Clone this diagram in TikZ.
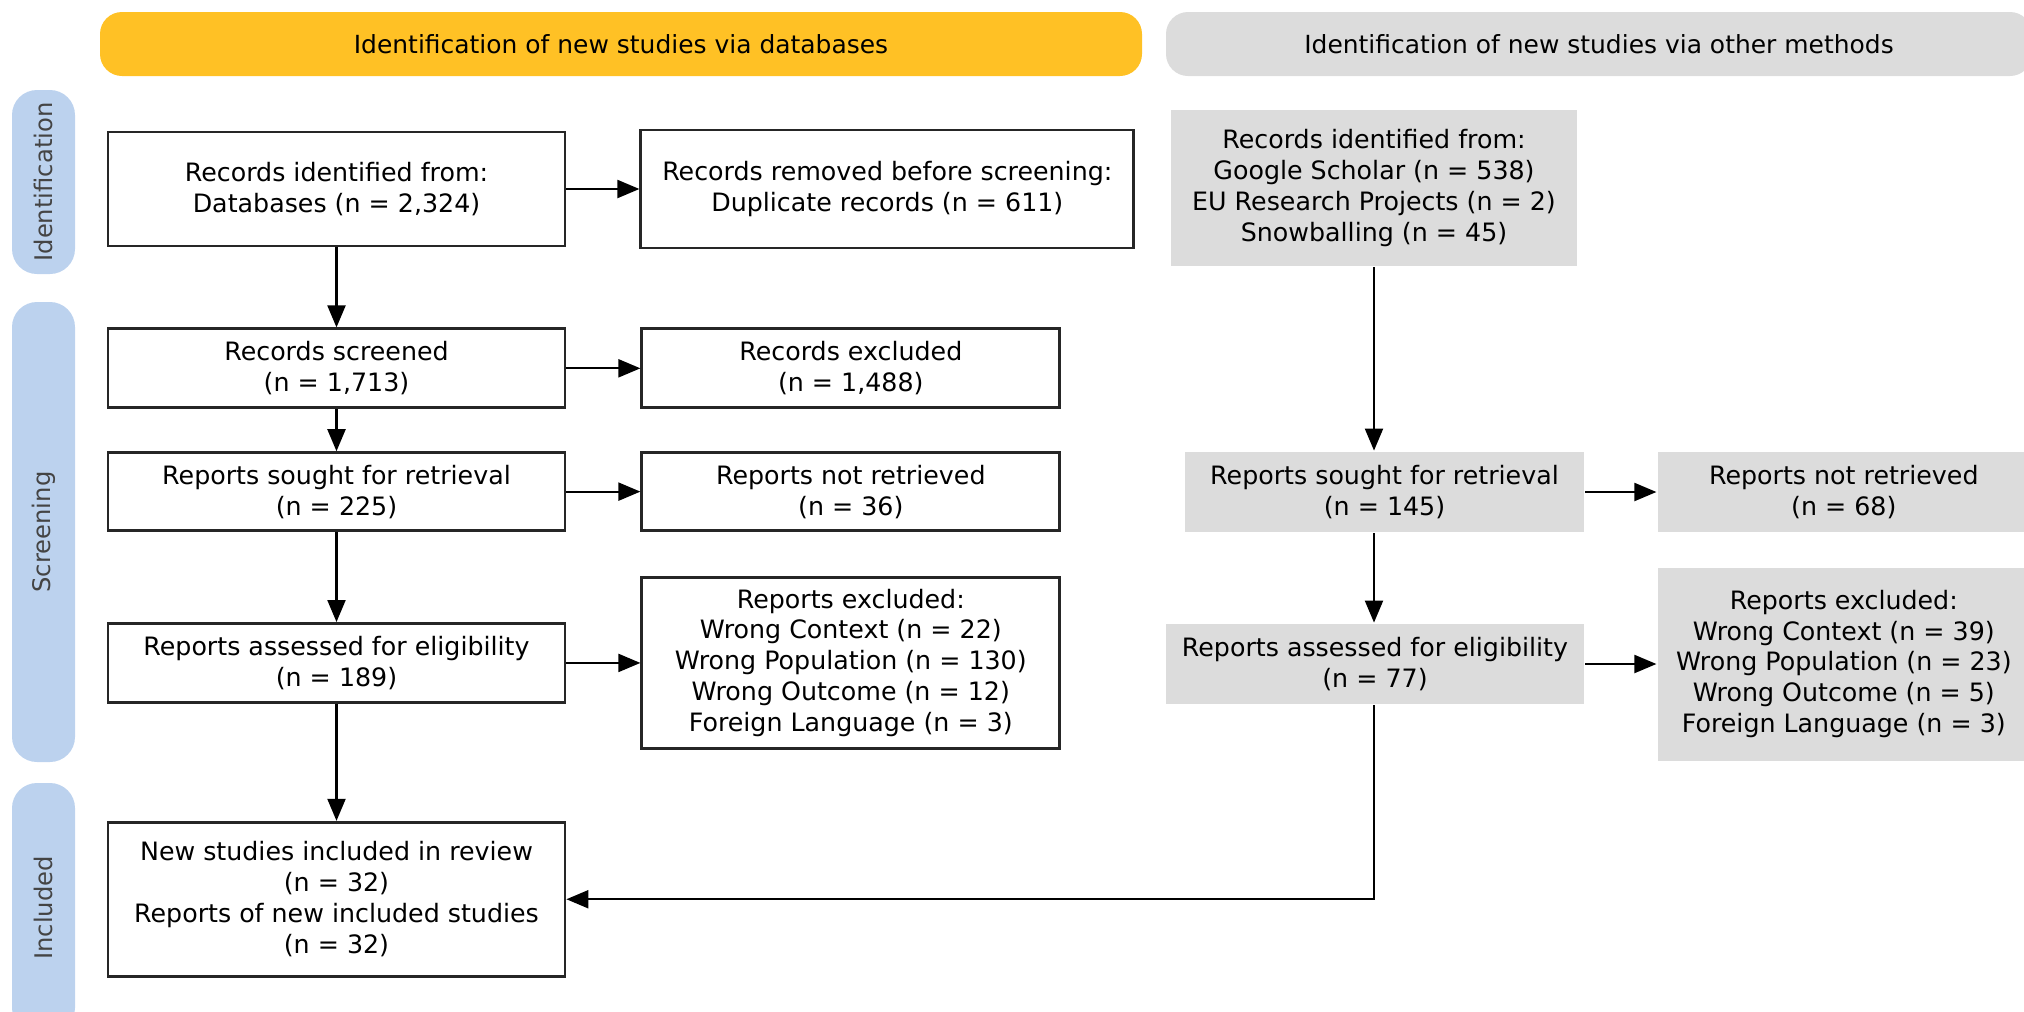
\documentclass[tikz,border=0pt]{standalone}
\usepackage{fontspec}
\setmainfont{DejaVu Sans}
\usepackage{xcolor}
\usepackage{tikz}
\usetikzlibrary{arrows.meta,positioning}
\definecolor{PrismaGold}{HTML}{FFC125}
\definecolor{PrismaGrey}{HTML}{DCDCDC}
\definecolor{PrismaSide}{HTML}{BCD2EE}
\definecolor{PrismaSideText}{HTML}{444444}

\begin{document}
\begin{tikzpicture}[
  x=0.1mm,y=-0.1mm,
  box/.style={draw=black!85,line width=0.8pt,fill=white,align=center,inner sep=0pt,font=\fontsize{7.2}{8.8}\selectfont},
  greybox/.style={box,draw=none,fill=PrismaGrey},
  head/.style={rounded corners=2.2mm,minimum height=6.4mm,inner sep=0pt,font=\fontsize{7.1}{8.8}\selectfont},
  side/.style={fill=PrismaSide,rounded corners=2.5mm,minimum height=6.3mm,inner sep=0pt,rotate=90,font=\fontsize{6.9}{8}\selectfont,text=PrismaSideText},
  arr/.style={-{Triangle[length=2.2mm,width=1.8mm]},line width=0.6pt}
]
\useasboundingbox (0,0) rectangle (2024,1012);
\node[head,fill=PrismaGold,minimum width=104.2mm] (dbhead) at (621,44) {Identification of new studies via databases};
\node[head,fill=PrismaGrey,minimum width=86.6mm] (othead) at (1599,44) {Identification of new studies via other methods};
\node[side,minimum width=18.4mm] (sideid) at (43.5,182) {Identification};
\node[side,minimum width=46mm] (sidescr) at (43.5,532) {Screening};
\node[side,minimum width=25mm] (sideinc) at (43.5,908) {Included};

\node[box,minimum width=45.7mm,minimum height=11.4mm] (dbrec) at (336.5,189) {Records identified from:\\Databases (n = 2,324)};
\node[box,minimum width=45.7mm,minimum height=7.9mm,below=8mm of dbrec] (dbscr) {Records screened\\(n = 1,713)};
\node[box,minimum width=45.7mm,minimum height=7.8mm,below=4.2mm of dbscr] (dbsought) {Reports sought for retrieval\\(n = 225)};
\node[box,minimum width=45.7mm,minimum height=7.9mm,below=9mm of dbsought] (dbassess) {Reports assessed for eligibility\\(n = 189)};
\node[box,minimum width=45.7mm,minimum height=15.4mm,below=11.7mm of dbassess] (dbincl) {New studies included in review\\(n = 32)\\Reports of new included studies\\(n = 32)};
\node[box,minimum width=49.3mm,minimum height=11.8mm,right=7.3mm of dbrec] (dbdup) {Records removed before screening:\\Duplicate records (n = 611)};
\node[box,minimum width=41.8mm,minimum height=7.9mm,right=7.4mm of dbscr] (dbexcl) {Records excluded\\(n = 1,488)};
\node[box,minimum width=41.8mm,minimum height=7.8mm,right=7.4mm of dbsought] (dbnotret) {Reports not retrieved\\(n = 36)};
\node[box,minimum width=41.8mm,minimum height=17.1mm,right=7.4mm of dbassess] (dbrepexcl) {Reports excluded:\\Wrong Context (n = 22)\\Wrong Population (n = 130)\\Wrong Outcome (n = 12)\\Foreign Language (n = 3)};

\node[greybox,minimum width=40.6mm,minimum height=15.6mm] (orec) at (1374,188) {Records identified from:\\Google Scholar (n = 538)\\EU Research Projects (n = 2)\\Snowballing (n = 45)};
\node[greybox,minimum width=39.9mm,minimum height=8mm] (osought) at (1384.5,492) {Reports sought for retrieval\\(n = 145)};
\node[greybox,minimum width=41.8mm,minimum height=8mm] (oassess) at (1375,664) {Reports assessed for eligibility\\(n = 77)};
\node[greybox,minimum width=37.2mm,minimum height=8mm,right=7.1mm of osought] (onotret) {Reports not retrieved\\(n = 68)};
\node[greybox,minimum width=37.2mm,minimum height=19.3mm,right=7.1mm of oassess] (orepexcl) {Reports excluded:\\Wrong Context (n = 39)\\Wrong Population (n = 23)\\Wrong Outcome (n = 5)\\Foreign Language (n = 3)};

\draw[arr] (dbrec) -- (dbdup);
\draw[arr] (dbrec) -- (dbscr);
\draw[arr] (dbscr) -- (dbexcl);
\draw[arr] (dbscr) -- (dbsought);
\draw[arr] (dbsought) -- (dbnotret);
\draw[arr] (dbsought) -- (dbassess);
\draw[arr] (dbassess) -- (dbrepexcl);
\draw[arr] (dbassess) -- (dbincl);
\draw[arr] (orec) -- (orec |- osought.north);
\draw[arr] (osought) -- (onotret);
\draw[arr] (orec |- osought.south) -- (orec |- oassess.north);
\draw[arr] (oassess) -- (orepexcl);
\draw[arr] (orec |- oassess.south) |- (dbincl.east);
\end{tikzpicture}
\end{document}
